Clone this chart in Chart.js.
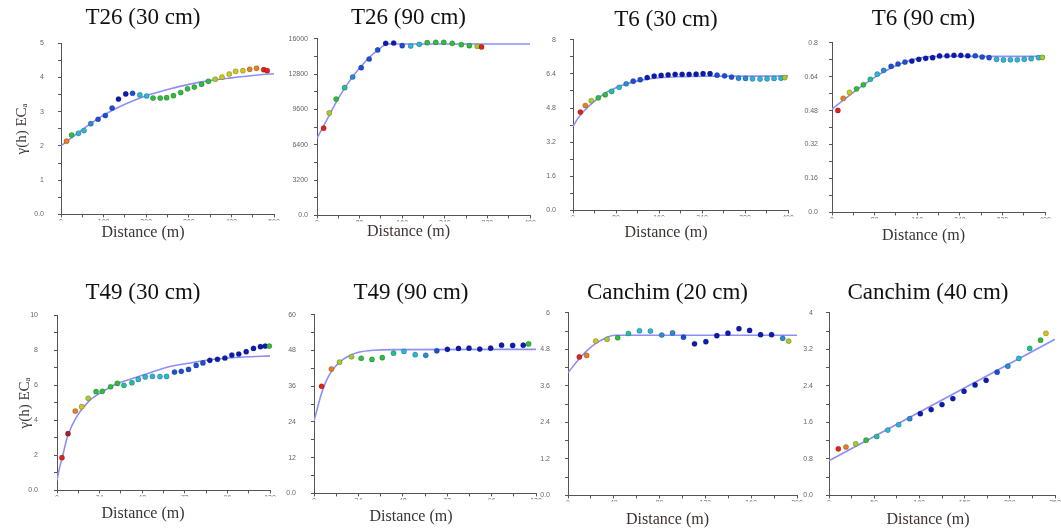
<!DOCTYPE html>
<html>
<head>
<meta charset="utf-8">
<script src="https://cdn.jsdelivr.net/npm/chart.js@4.4.1/dist/chart.umd.min.js"></script>
<style>
  html, body { margin: 0; padding: 0; background: #fff; }
  #wrap { position: relative; width: 1061px; height: 531px; overflow: hidden; }
  #wrap canvas { position: absolute; }
</style>
</head>
<body>
<div id="wrap"></div>
<script>
// ---- T26 (30 cm)
const t26s_dist = [13, 25, 41, 54, 70, 87, 104, 120, 135, 152, 168, 185, 201, 216, 233, 248, 264, 281, 297, 313, 330, 346, 362, 378, 395, 410, 427, 443, 459, 476, 484];
const t26s_gamma = [2.14, 2.32, 2.37, 2.45, 2.65, 2.78, 2.89, 3.11, 3.37, 3.52, 3.54, 3.49, 3.46, 3.40, 3.40, 3.41, 3.47, 3.56, 3.67, 3.72, 3.80, 3.89, 3.95, 4.01, 4.10, 4.18, 4.20, 4.24, 4.27, 4.23, 4.20];
const t26s_modelDist = [0, 50, 100, 150, 200, 250, 300, 350, 400, 450, 500];
const t26s_modelGamma = [2.0, 2.48, 2.9, 3.22, 3.47, 3.65, 3.8, 3.91, 3.99, 4.06, 4.11];
const t26s_xLabels = ['0', '100', '200', '300', '400', '500'];
const t26s_yLabels = ['0.0', '1', '2', '3', '4', '5'];

// ---- T26 (90 cm)
const t26d_dist = [12.5, 23, 36, 52, 67, 83, 98, 114, 129, 144, 160, 176, 192, 207, 223, 238, 254, 271, 286, 301, 309];
const t26d_gamma = [7900, 9280, 10540, 11570, 12540, 13380, 14170, 14990, 15590, 15620, 15380, 15350, 15500, 15650, 15680, 15680, 15590, 15470, 15380, 15320, 15260];
const t26d_modelDist = [0, 20, 40, 60, 80, 100, 115, 132, 400];
const t26d_modelGamma = [7000, 8800, 10600, 12100, 13350, 14400, 15000, 15530, 15530];
const t26d_xLabels = ['0', '80', '160', '240', '320', '400'];
const t26d_yLabels = ['0.0', '3200', '6400', '9600', '12800', '16000'];

// ---- T6 (30 cm)
const t6s_dist = [13.7, 23, 34, 47, 60, 72, 86, 99, 112, 125, 138, 151, 164, 177, 190, 203, 216, 229, 242, 255, 268, 282, 295, 308, 321, 334, 348, 361, 374, 387, 394];
const t6s_gamma = [4.61, 4.92, 5.14, 5.28, 5.42, 5.58, 5.77, 5.94, 6.06, 6.13, 6.23, 6.30, 6.33, 6.36, 6.38, 6.38, 6.38, 6.39, 6.41, 6.41, 6.34, 6.31, 6.25, 6.20, 6.19, 6.17, 6.16, 6.17, 6.19, 6.20, 6.23];
const t6s_modelDist = [0, 10, 20, 40, 60, 80, 100, 130, 160, 200, 250, 400];
const t6s_modelGamma = [3.94, 4.35, 4.65, 5.12, 5.5, 5.75, 5.94, 6.12, 6.22, 6.27, 6.29, 6.3];
const t6s_xLabels = ['0', '80', '160', '240', '320', '400'];
const t6s_yLabels = ['0.0', '1.6', '3.2', '4.8', '6.4', '8'];

// ---- T6 (90 cm)
const t6d_dist = [11, 21, 33, 46, 59, 72, 85, 97, 111, 124, 137, 150, 163, 176, 189, 202, 216, 229, 242, 255, 269, 282, 295, 309, 322, 335, 348, 361, 374, 388, 395];
const t6d_gamma = [0.481, 0.538, 0.566, 0.583, 0.602, 0.628, 0.652, 0.670, 0.689, 0.700, 0.709, 0.714, 0.722, 0.727, 0.730, 0.738, 0.739, 0.741, 0.741, 0.739, 0.739, 0.733, 0.730, 0.722, 0.719, 0.720, 0.720, 0.722, 0.725, 0.730, 0.731];
const t6d_modelDist = [0, 20, 40, 60, 80, 100, 120, 140, 160, 180, 200, 400];
const t6d_modelGamma = [0.487, 0.527, 0.566, 0.603, 0.637, 0.667, 0.692, 0.712, 0.726, 0.734, 0.736, 0.736];
const t6d_xLabels = ['0', '80', '160', '240', '320', '400'];
const t6d_yLabels = ['0.0', '0.16', '0.32', '0.48', '0.64', '0.8'];

// ---- T49 (30 cm)
const t49s_dist = [2.8, 6.2, 10.3, 13.9, 17.6, 22, 25.5, 30.2, 34, 37.7, 42.2, 45.8, 49.7, 53.8, 58, 61.7, 66.2, 70, 74.1, 78.4, 82.2, 86.1, 90.4, 94.6, 98.5, 102.4, 106.6, 110.7, 114.6, 117.3, 119.6];
const t49s_gamma = [1.87, 3.24, 4.53, 4.78, 5.26, 5.64, 5.66, 5.92, 6.11, 6.00, 6.15, 6.34, 6.48, 6.51, 6.50, 6.51, 6.76, 6.80, 6.91, 7.14, 7.28, 7.43, 7.49, 7.56, 7.73, 7.79, 7.92, 8.11, 8.21, 8.24, 8.24];
const t49s_modelDist = [0, 1, 3, 6, 11, 18, 26, 33, 50, 61.5, 76.5, 90, 105, 120];
const t49s_modelGamma = [0.57, 1.1, 1.9, 3.1, 4.2, 5.1, 5.66, 6.06, 6.63, 7.02, 7.3, 7.5, 7.62, 7.68];
const t49s_xLabels = ['0', '24', '48', '72', '96', '120'];
const t49s_yLabels = ['0.0', '2', '4', '6', '8', '10'];

// ---- T49 (90 cm)
const t49d_dist = [4.1, 9.4, 13.8, 20.3, 25.5, 31.3, 36.9, 43, 48.6, 54.7, 60.4, 66.4, 72.1, 78.1, 83.8, 89.6, 95.5, 101.4, 107.4, 113.1, 116];
const t49d_gamma = [36.0, 41.8, 44.1, 45.9, 45.4, 45.0, 45.6, 47.1, 47.7, 46.6, 46.4, 47.9, 48.4, 48.7, 48.8, 48.5, 48.8, 49.8, 49.7, 49.8, 50.2];
const t49d_modelDist = [0, 2, 4, 7, 10, 14, 18, 24, 32, 45, 120];
const t49d_modelGamma = [24.3, 29, 33.5, 38.3, 41.5, 44.2, 45.9, 47.4, 48.1, 48.3, 48.4];
const t49d_xLabels = ['0', '24', '48', '72', '96', '120'];
const t49d_yLabels = ['0.0', '12', '24', '36', '48', '60'];

// ---- Canchim (20 cm)
const can20_dist = [9.9, 16.3, 24.2, 34.1, 43.4, 52.8, 62.4, 72, 81.9, 91.3, 100.9, 110.5, 120.4, 130, 139.7, 149.3, 158.6, 168.2, 177.8, 187.5, 192.7];
const can20_gamma = [4.55, 4.60, 5.07, 5.13, 5.18, 5.32, 5.41, 5.40, 5.27, 5.34, 5.20, 4.98, 5.05, 5.25, 5.33, 5.48, 5.42, 5.28, 5.28, 5.16, 5.07];
const can20_modelDist = [0, 10, 20, 30, 41, 200];
const can20_modelGamma = [4.03, 4.5, 4.87, 5.12, 5.26, 5.26];
const can20_xLabels = ['0', '40', '80', '120', '160', '200'];
const can20_yLabels = ['0.0', '1.2', '2.4', '3.6', '4.8', '6'];

// ---- Canchim (40 cm)
const can40_dist = [10.3, 18.8, 29.5, 41, 52.8, 65, 77, 89.3, 101, 113, 125, 137, 149.4, 161.6, 173.8, 186, 197.8, 210, 222, 234, 240];
const can40_gamma = [1.02, 1.06, 1.13, 1.21, 1.29, 1.43, 1.55, 1.68, 1.79, 1.88, 1.99, 2.12, 2.28, 2.42, 2.52, 2.70, 2.83, 3.00, 3.22, 3.40, 3.55];
const can40_modelDist = [0, 250];
const can40_modelGamma = [0.76, 3.42];
const can40_xLabels = ['0', '50', '100', '150', '200', '250'];
const can40_yLabels = ['0.0', '0.8', '1.6', '2.4', '3.2', '4'];

// point colours (number-of-pairs scale, red -> navy)
const palette = {
  R: '#e3221d', D: '#a3202c', O: '#e8801f', Y: '#d4c41c', YG: '#a5cc2a', G: '#2fbd3d',
  CG: '#22bf98', C: '#2db6d5', CB: '#2a8ad6', B: '#1c4fd6', N: '#0b1cb4'
};
const t26s_colors = ['O','G','C','C','CB','B','B','B','N','N','B','C','C','G','G','G','G','G','G','G','G','G','YG','Y','Y','Y','Y','O','O','R','R'];
const t26d_colors = ['R','YG','G','CG','CB','B','B','B','N','N','B','C','C','G','G','G','G','G','G','YG','R'];
const t6s_colors = ['R','O','YG','G','G','CG','C','CB','B','B','N','N','N','N','N','N','N','N','N','N','B','B','B','CB','CB','C','C','C','C','C','YG'];
const t6d_colors = ['R','O','Y','G','G','CG','C','CB','B','B','B','N','N','N','N','N','N','N','N','N','B','B','B','C','C','C','C','C','C','C','YG'];
const t49s_colors = ['R','D','O','Y','YG','G','G','G','G','CG','CG','C','C','C','C','C','B','B','B','B','B','N','N','N','N','N','N','N','N','N','G'];
const t49d_colors = ['R','O','YG','YG','G','G','G','CG','C','C','CB','B','N','N','N','N','N','N','N','N','G'];
const can20_colors = ['R','O','Y','YG','G','CG','C','C','CB','CB','B','N','N','N','N','N','N','N','N','CB','YG'];
const can40_colors = ['R','O','YG','G','CG','C','C','CB','N','N','N','N','N','N','N','B','CB','C','CG','G','Y'];

const serif = "'Liberation Serif', 'Times New Roman', serif";
const sans = "'Liberation Sans', Arial, sans-serif";
const yTitle = 'γ(h) ECₐ';
const D = 20;

// panel placement on the page (plot box edges, title/label centres, min axis width)
const panels = [
  { title: 'T26 (30 cm)', dist: t26s_dist, gamma: t26s_gamma, mx: t26s_modelDist, my: t26s_modelGamma, xl: t26s_xLabels, yl: t26s_yLabels, col: t26s_colors, xMax: 500, yMax: 5,
    L: 61, R: 274, T: 43, B: 214, tc: 143, ty: 17.5, xy: 232, gap: 14, need: 28, yt: 1 },
  { title: 'T26 (90 cm)', dist: t26d_dist, gamma: t26d_gamma, mx: t26d_modelDist, my: t26d_modelGamma, xl: t26d_xLabels, yl: t26d_yLabels, col: t26d_colors, xMax: 400, yMax: 16000,
    L: 317, R: 530, T: 39, B: 216, tc: 412, ty: 18, xy: 232, gap: 6, need: 30 },
  { title: 'T6 (30 cm)', dist: t6s_dist, gamma: t6s_gamma, mx: t6s_modelDist, my: t6s_modelGamma, xl: t6s_xLabels, yl: t6s_yLabels, col: t6s_colors, xMax: 400, yMax: 8,
    L: 573, R: 788, T: 40, B: 211, tc: 670, ty: 20, xy: 233, gap: 14, need: 29 },
  { title: 'T6 (90 cm)', dist: t6d_dist, gamma: t6d_gamma, mx: t6d_modelDist, my: t6d_modelGamma, xl: t6d_xLabels, yl: t6d_yLabels, col: t6d_colors, xMax: 400, yMax: 0.8,
    L: 832, R: 1045, T: 43, B: 213, tc: 928, ty: 19, xy: 236, gap: 11, need: 30 },
  { title: 'T49 (30 cm)', dist: t49s_dist, gamma: t49s_gamma, mx: t49s_modelDist, my: t49s_modelGamma, xl: t49s_xLabels, yl: t49s_yLabels, col: t49s_colors, xMax: 120, yMax: 10,
    L: 57, R: 270, T: 315, B: 490, tc: 143, ty: 292.5, xy: 513, gap: 16, need: 30, yt: 0 },
  { title: 'T49 (90 cm)', dist: t49d_dist, gamma: t49d_gamma, mx: t49d_modelDist, my: t49d_modelGamma, xl: t49d_xLabels, yl: t49d_yLabels, col: t49d_colors, xMax: 120, yMax: 60,
    L: 314, R: 536, T: 315, B: 494, tc: 412, ty: 293, xy: 517, gap: 15, need: 28 },
  { title: 'Canchim (20 cm)', dist: can20_dist, gamma: can20_gamma, mx: can20_modelDist, my: can20_modelGamma, xl: can20_xLabels, yl: can20_yLabels, col: can20_colors, xMax: 200, yMax: 6,
    L: 568, R: 797, T: 313, B: 496, tc: 670, ty: 293, xy: 520, gap: 15, need: 30 },
  { title: 'Canchim (40 cm)', dist: can40_dist, gamma: can40_gamma, mx: can40_modelDist, my: can40_modelGamma, xl: can40_xLabels, yl: can40_yLabels, col: can40_colors, xMax: 250, yMax: 4,
    L: 829, R: 1055, T: 313, B: 496, tc: 928, ty: 293, xy: 520, gap: 13, need: 28 }
];

const wrap = document.getElementById('wrap');

panels.forEach(p => {
  // the title is centred on the full canvas: pick the axis width that puts it at tc,
  // unless the tick labels need more room
  const yW = Math.max(p.L + p.R - 2 * p.tc, p.need);
  const cl = p.L - yW;
  const left = cl - D;
  const width = p.R + 26 - left;
  const top = p.ty - 15.8;
  const pb = p.T - p.ty - 13.8;
  const spt = p.xy - p.B - 15.6;
  const height = p.B + 6 + spt + 21.2 - top;

  const cv = document.createElement('canvas');
  cv.width = Math.round(width);
  cv.height = Math.round(height);
  cv.style.left = left + 'px';
  cv.style.top = top + 'px';
  cv.style.width = Math.round(width) + 'px';
  cv.style.height = Math.round(height) + 'px';
  wrap.appendChild(cv);

  const hasYTitle = p.yt !== undefined;

  new Chart(cv, {
    type: 'scatter',
    data: {
      datasets: [
        {
          data: p.dist.map((d, i) => ({ x: d, y: p.gamma[i] })),
          backgroundColor: p.col.map(c => palette[c]),
          pointBorderColor: 'rgba(0, 0, 0, 0.35)',
          pointBorderWidth: 0.6,
          pointRadius: 2.6,
          clip: false
        },
        {
          data: p.mx.map((d, i) => ({ x: d, y: p.my[i] })),
          showLine: true,
          borderColor: '#8d8ff7',
          borderWidth: 1.6,
          pointRadius: 0,
          cubicInterpolationMode: 'monotone'
        }
      ]
    },
    options: {
      responsive: false,
      animation: false,
      events: [],
      layout: { padding: { left: D, right: 6 + D, top: 0, bottom: 0 } },
      plugins: {
        legend: { display: false },
        tooltip: { enabled: false },
        title: {
          display: true,
          text: p.title,
          color: '#111',
          font: { family: serif, size: 23, weight: 'normal', lineHeight: 1.2 },
          padding: { top: 2, bottom: pb }
        },
        subtitle: {
          display: true,
          position: 'bottom',
          text: 'Distance (m)',
          color: '#3b3430',
          font: { family: serif, size: 16, weight: 'normal', lineHeight: 1.2 },
          padding: { top: spt, bottom: 2 }
        }
      },
      scales: {
        x: {
          type: 'linear',
          min: 0,
          max: p.xMax,
          afterFit: s => { s.height = 6; },
          border: { display: true, color: '#555', width: 1 },
          grid: { drawOnChartArea: false, drawTicks: true, tickLength: 3, color: '#555' },
          ticks: {
            count: 11,
            autoSkip: false,
            maxRotation: 0,
            padding: 0,
            color: '#666',
            font: { family: sans, size: 7 },
            callback: (v, i) => (i % 2 ? '' : p.xl[i / 2])
          }
        },
        y: {
          type: 'linear',
          min: 0,
          max: p.yMax,
          afterFit: s => { s.width = yW; },
          border: { display: true, color: '#555', width: 1 },
          grid: { drawOnChartArea: false, drawTicks: true, tickLength: 3, color: '#555' },
          title: {
            display: hasYTitle,
            text: yTitle,
            color: '#3b3430',
            font: { family: serif, size: 15, lineHeight: 1.2 },
            padding: { top: hasYTitle ? p.yt : 0, bottom: 0 }
          },
          ticks: {
            count: 11,
            autoSkip: false,
            padding: p.gap,
            color: '#666',
            font: { family: sans, size: 7 },
            callback: (v, i) => (i % 2 ? '' : p.yl[i / 2])
          }
        }
      }
    }
  });
});
</script>
</body>
</html>
